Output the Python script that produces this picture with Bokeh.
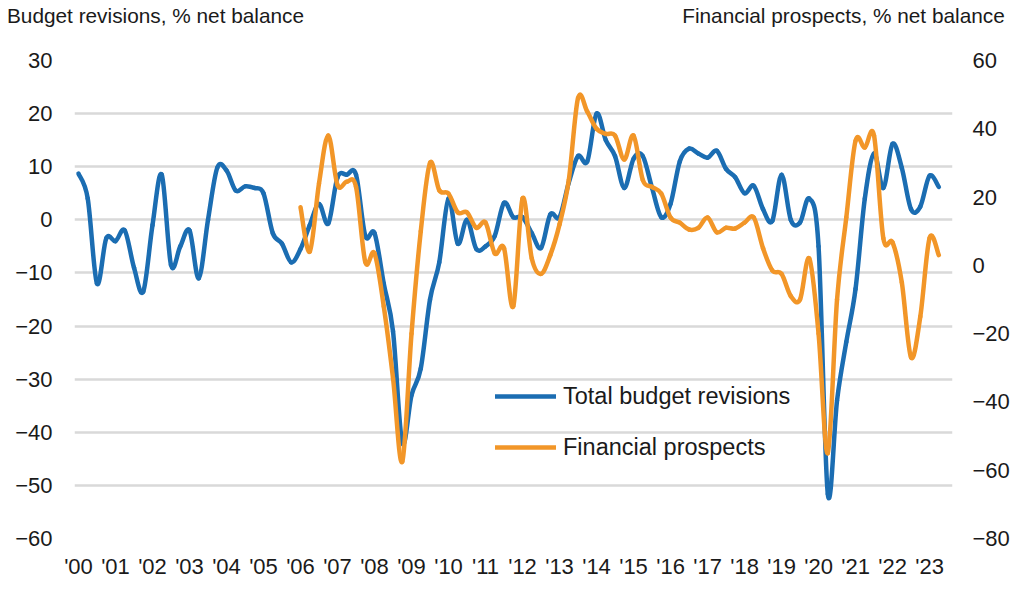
import numpy as np
from bokeh.plotting import figure
from bokeh.models import Range1d, LinearAxis, FixedTicker, Legend, LegendItem, ColumnDataSource
from bokeh.embed import file_html
from bokeh.resources import INLINE

# Quarterly data, 2000 Q1 .. 2023 Q2
start_year = 2000
budget_revisions = [
    8.7, 4, -12, -3.5, -4, -2, -9, -13.5, -1, 8.5, -8.5, -5, -2, -11, 0, 9.8,
    9.3, 5.5, 6.3, 6, 5, -2.5, -4.5, -8, -5.5, -1, 3, -0.7, 8, 8.5, 8.5, -3,
    -2.5, -12, -21, -42, -33, -28, -15, -8, 4, -4.5, 0, -5.5, -5, -3, 3.2, 0.5,
    0.5, -2.5, -5.3, 1, 0.5, 7, 12, 11, 20, 15, 12, 6, 11.5, 12, 6, 0.5,
    3, 11, 13.4, 12.5, 11.7, 13, 9.6, 8, 5, 6.4, 2, -0.2, 8.5, 0, -0.5, 4,
    -5, -51.6, -34, -23, -13, 4, 12.5, 6, 14.3, 9.8, 2, 2.5, 8.3, 6.2,
]
financial_prospects = [None] * 24 + [
    17, 4, 24, 38, 23.5, 24.5, 23, 1, 3.5, -12, -33, -57.5, -20, 10, 30, 22,
    21, 15.5, 15.5, 11, 12.5, 3.5, 5, -12, 19.6, 2, -2.5, 3, 12, 25, 49, 45,
    40, 38.5, 38, 31, 38, 25, 23, 21, 14, 12.5, 10.5, 11, 14, 9.7, 11, 10.8,
    12.5, 14, 5, -1.5, -2.5, -9, -10, 2, -20, -55, -10, 14, 36.5, 34.5, 38, 8,
    6.7, -5, -27, -15, 8, 3,
]
year_ticks = list(range(2000, 2024))
year_labels = ["'%02d" % (y % 100) for y in year_ticks]
left_ticks = [-60, -50, -40, -30, -20, -10, 0, 10, 20, 30]
right_ticks = [-80, -60, -40, -20, 0, 20, 40, 60]
left_title = "Budget revisions, % net balance"
right_title = "Financial prospects, % net balance"
legend_labels = ["Total budget revisions", "Financial prospects"]

FONT = "Liberation Sans"
TXT = "#1a1a1a"
BLUE = "#1b6db2"
ORANGE = "#f29628"
W, H = 1020, 595
FL, FR, FT, FB = 74, 952, 60, 538   # plot frame edges (pixels)


def smooth_segments(xs, ys):
    """Bezier segments through the data points (like a spreadsheet 'smoothed line')."""
    n = len(xs)
    out = {k: [] for k in ["x0", "y0", "x1", "y1", "cx0", "cy0", "cx1", "cy1"]}
    for i in range(n - 1):
        xp, yp = (xs[i - 1], ys[i - 1]) if i > 0 else (xs[i], ys[i])
        xn, yn = (xs[i + 2], ys[i + 2]) if i + 2 < n else (xs[i + 1], ys[i + 1])
        out["x0"].append(xs[i]); out["y0"].append(ys[i])
        out["x1"].append(xs[i + 1]); out["y1"].append(ys[i + 1])
        out["cx0"].append(xs[i] + (xs[i + 1] - xp) / 6)
        out["cy0"].append(ys[i] + (ys[i + 1] - yp) / 6)
        out["cx1"].append(xs[i + 1] - (xn - xs[i]) / 6)
        out["cy1"].append(ys[i + 1] - (yn - ys[i]) / 6)
    return ColumnDataSource(out)


x_all = [start_year + i / 4 for i in range(len(budget_revisions))]
fp_pairs = [(xv, v) for xv, v in zip(x_all, financial_prospects) if v is not None]
fp_x = [a for a, _ in fp_pairs]
fp_y = [b for _, b in fp_pairs]

p = figure(width=W, height=H, output_backend="svg", toolbar_location=None,
           x_range=Range1d(1999.892, 2023.62), y_range=Range1d(-60, 30),
           min_border_left=FL, min_border_right=W - FR, min_border_top=FT,
           min_border_bottom=H - FB)
p.outline_line_color = None
p.extra_y_ranges = {"right": Range1d(-80, 60)}
p.extra_x_ranges = {"px": Range1d(FL, FR)}

p.xgrid.grid_line_color = None
p.ygrid.grid_line_color = "#d9d9d9"
p.ygrid.grid_line_width = 2.5
p.ygrid.ticker = FixedTicker(ticks=left_ticks)

xa = p.below[0]
ya = p.left[0]

ry = LinearAxis(y_range_name="right", ticker=FixedTicker(ticks=right_ticks))
p.add_layout(ry, "right")

# axis carrying the two axis titles above the plot
title_axis = LinearAxis(x_range_name="px", ticker=FixedTicker(ticks=[155, 843]),
                        major_label_overrides={155: left_title, 843: right_title})
p.add_layout(title_axis, "above")

for ax in [xa, ya, ry, title_axis]:
    ax.axis_line_color = None
    ax.major_tick_line_color = None
    ax.minor_tick_line_color = None
    ax.major_tick_out = 0
    ax.major_tick_in = 0
    ax.minor_tick_out = 0
    ax.minor_tick_in = 0
    ax.major_label_text_font = FONT
    ax.major_label_text_font_size = "22px"
    ax.major_label_text_color = TXT

title_axis.major_label_text_font_size = "20.8px"
title_axis.major_label_standoff = 34

xa.ticker = FixedTicker(ticks=year_ticks)
xa.major_label_overrides = {y: l for y, l in zip(year_ticks, year_labels)}
xa.major_label_standoff = 15
ya.ticker = FixedTicker(ticks=left_ticks)
ya.major_label_standoff = 22
ry.major_label_standoff = 20

r1 = p.bezier(x0="x0", y0="y0", x1="x1", y1="y1", cx0="cx0", cy0="cy0", cx1="cx1", cy1="cy1",
              source=smooth_segments(x_all, budget_revisions),
              line_color=BLUE, line_width=4.5, line_cap="round")
r2 = p.bezier(x0="x0", y0="y0", x1="x1", y1="y1", cx0="cx0", cy0="cy0", cx1="cx1", cy1="cy1",
              source=smooth_segments(fp_x, fp_y), y_range_name="right",
              line_color=ORANGE, line_width=4.5, line_cap="round")

legend = Legend(items=[LegendItem(label=legend_labels[0], renderers=[r1]),
                       LegendItem(label=legend_labels[1], renderers=[r2])],
                location=(421, 77), padding=0, margin=0, spacing=23,
                glyph_width=61, glyph_height=28, label_height=28, label_standoff=7,
                label_text_font=FONT, label_text_font_size="23.5px", label_text_color=TXT,
                background_fill_alpha=0, border_line_alpha=0)
p.add_layout(legend, "center")

open("out.html", "w").write(file_html(p, INLINE))
